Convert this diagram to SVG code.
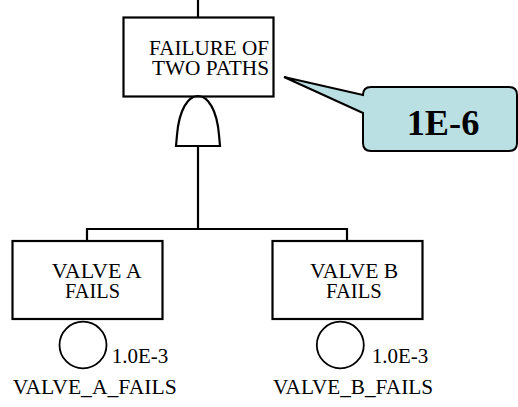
<svg xmlns="http://www.w3.org/2000/svg" width="518" height="407" viewBox="0 0 518 407">
<style>
.box{fill:#fff;stroke:#000;stroke-width:2.2}
.ln{fill:none;stroke:#000;stroke-width:2.2}
.ev{fill:#fff;stroke:#000;stroke-width:1.8}
text{font-family:'Liberation Serif','Times New Roman',Times,serif;fill:#000}
.t{font-size:20px}
.big{font-size:36px;font-weight:bold}
</style>
<rect width="518" height="407" fill="#fff"/>
<g id="connectors">
<path class="ln" d="M198,0 V17"/>
<path class="ln" d="M198,146 V229"/>
<path class="ln" d="M87,241 V229 H347 V241"/>
</g>
<g id="top-event">
<rect class="box" x="123.5" y="17.5" width="150" height="79"/>
<text class="t" x="149" y="55" textLength="120" lengthAdjust="spacingAndGlyphs">FAILURE OF</text>
<text class="t" x="152" y="75" textLength="117" lengthAdjust="spacingAndGlyphs">TWO PATHS</text>
</g>
<g id="and-gate">
<path class="ln" d="M176,146 L177,135 C179,110 188,96 198,96 C208,96 217,110 219,135 L220,146 Z" fill="#fff"/>
</g>
<g id="callout">
<path d="M371,87 H509 Q517,87 517,95 V143 Q517,151 509,151 H371 Q363,151 363,143 V113 L284,77 L363,95 Q363,87 371,87 Z" fill="#bbe0e3" stroke="#000" stroke-width="2"/>
<text class="big" x="406.7" y="135" textLength="72.6" lengthAdjust="spacingAndGlyphs">1E-6</text>
</g>
<g id="valve-a">
<rect class="box" x="12.5" y="241" width="150" height="78"/>
<text class="t" x="51.7" y="277.5" textLength="90" lengthAdjust="spacingAndGlyphs">VALVE A</text>
<text class="t" x="65" y="297.5" textLength="55" lengthAdjust="spacingAndGlyphs">FAILS</text>
<ellipse class="ev" cx="83" cy="345" rx="23.5" ry="23.3"/>
<text class="t" x="111.7" y="363" textLength="56.6" lengthAdjust="spacingAndGlyphs">1.0E-3</text>
<text class="t" x="12.7" y="394" textLength="164" lengthAdjust="spacingAndGlyphs">VALVE_A_FAILS</text>
</g>
<g id="valve-b">
<rect class="box" x="272.5" y="241" width="150" height="78"/>
<text class="t" x="310" y="277.5" textLength="88.3" lengthAdjust="spacingAndGlyphs">VALVE B</text>
<text class="t" x="326" y="297.5" textLength="55.7" lengthAdjust="spacingAndGlyphs">FAILS</text>
<ellipse class="ev" cx="340.3" cy="345" rx="23.5" ry="23.3"/>
<text class="t" x="371.7" y="363" textLength="56.6" lengthAdjust="spacingAndGlyphs">1.0E-3</text>
<text class="t" x="273" y="394" textLength="160" lengthAdjust="spacingAndGlyphs">VALVE_B_FAILS</text>
</g>
</svg>
